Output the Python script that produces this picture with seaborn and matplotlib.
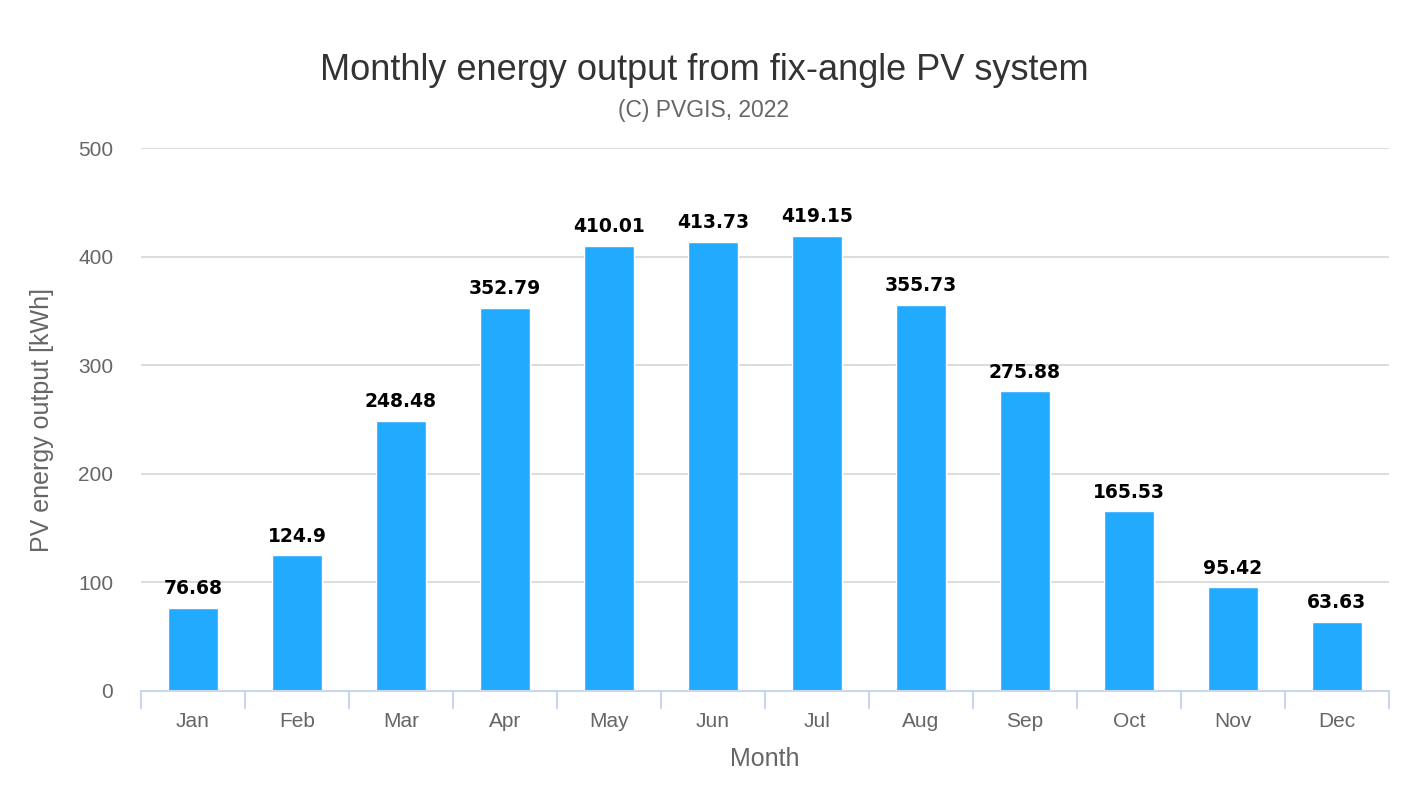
import matplotlib
matplotlib.use("Agg")
import matplotlib.pyplot as plt
import seaborn as sns
import pandas as pd
from matplotlib.ticker import FixedLocator

months = ["Jan", "Feb", "Mar", "Apr", "May", "Jun", "Jul", "Aug", "Sep", "Oct", "Nov", "Dec"]
output_kwh = [76.68, 124.9, 248.48, 352.79, 410.01, 413.73, 419.15, 355.73, 275.88, 165.53, 95.42, 63.63]
yticks = [0, 100, 200, 300, 400, 500]

title = "Monthly energy output from fix-angle PV system"
subtitle = "(C) PVGIS, 2022"
xlabel = "Month"
ylabel = "PV energy output [kWh]"

sns.set_theme(style="white")
plt.rcParams["font.family"] = ["Liberation Sans", "DejaVu Sans"]

df = pd.DataFrame({"month": months, "kwh": output_kwh})

fig = plt.figure(figsize=(14.08, 8.0), dpi=100)
ax = fig.add_axes([141/1408, 109/800, 1248/1408, 543/800])

sns.barplot(data=df, x="month", y="kwh", color="#22aaff", width=0.48,
            saturation=1, ax=ax, zorder=3)

ax.set_xlim(-0.5, len(months) - 0.5)
ax.set_ylim(0, 500)
ax.set_yticks(yticks)
ax.set_yticklabels([str(v) for v in yticks])

ax.yaxis.grid(True, color="#d9d9d9", linewidth=1.3, zorder=0)
ax.xaxis.grid(False)
for side in ["top", "right", "left"]:
    ax.spines[side].set_visible(False)
ax.spines["bottom"].set_color("#ccd6eb")
ax.spines["bottom"].set_linewidth(1.5)
ax.spines["bottom"].set_zorder(4)

ax.tick_params(axis="y", length=0, pad=20, labelsize=15, labelcolor="#666666")
ax.tick_params(axis="x", which="major", length=0, pad=15, labelsize=15, labelcolor="#666666")
ax.xaxis.set_minor_locator(FixedLocator([i - 0.5 for i in range(len(months) + 1)]))
ax.tick_params(axis="x", which="minor", bottom=True, length=13, width=1.5, color="#ccd6eb")

ax.set_xlabel(xlabel, fontsize=18, color="#666666", labelpad=12)
ax.set_ylabel(ylabel, fontsize=18, color="#666666", labelpad=17.5)

for i, v in enumerate(output_kwh):
    lbl = f"{v:g}"
    ax.annotate(lbl, xy=(i, v), xytext=(0, 7), textcoords="offset points",
                ha="center", va="bottom", fontsize=13.5, fontweight="bold",
                family="DejaVu Sans", color="black", zorder=5)

fig.text(0.5, 1 - 80/800, title, ha="center", va="baseline", fontsize=26, color="#333333")
fig.text(0.5, 1 - 117/800, subtitle, ha="center", va="baseline", fontsize=16.5, color="#666666")

fig.savefig("out.png", dpi=100)
